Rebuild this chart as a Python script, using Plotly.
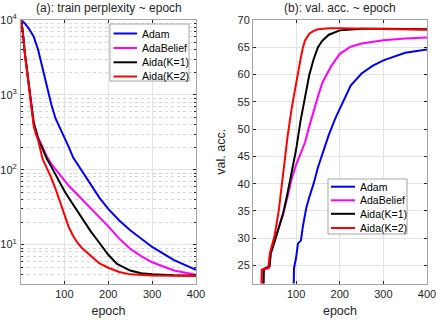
import plotly.graph_objects as go
from plotly.subplots import make_subplots

# (a) train perplexity
adam_ppl_ep = [1, 10, 20, 30, 40, 50, 60, 70, 80, 90, 100, 110, 120, 140, 160, 180, 200, 225, 250, 275, 300, 350, 400]
adam_ppl = [10000, 9000, 7500, 6000, 4000, 2300, 1250, 750, 480, 360, 275, 200, 145, 95, 62, 42, 30, 21, 15.5, 12, 9.3, 6.2, 4.6]

belief_ppl_ep = [1, 5, 10, 15, 20, 25, 30, 40, 50, 60, 70, 80, 90, 100, 110, 120, 140, 160, 180, 200, 225, 250, 275, 300, 350, 400]
belief_ppl = [10000, 7000, 3500, 2000, 1150, 650, 420, 270, 200, 150, 120, 100, 85, 72, 61, 53, 41, 31, 23, 17.5, 12, 8.8, 7, 5.8, 4.5, 3.95]

aida1_ppl_ep = [1, 5, 10, 15, 20, 25, 30, 40, 50, 60, 70, 80, 90, 100, 110, 120, 140, 160, 180, 200, 220, 250, 275, 300, 350, 400]
aida1_ppl = [10000, 7000, 3500, 2000, 1150, 650, 420, 260, 190, 140, 110, 85, 66, 52, 42, 34, 22, 15, 10.5, 7.3, 5.5, 4.5, 4.15, 4.0, 3.9, 3.86]

aida2_ppl_ep = [1, 5, 10, 15, 20, 25, 30, 35, 40, 50, 60, 70, 80, 90, 100, 110, 120, 130, 140, 160, 180, 200, 225, 250, 275, 300, 350, 400]
aida2_ppl = [10000, 7000, 3500, 2000, 1100, 650, 380, 300, 250, 140, 105, 78, 55, 37, 24, 17, 13, 10.5, 9, 7, 5.6, 4.9, 4.3, 4.0, 3.9, 3.85, 3.82, 3.8]

# (b) validation accuracy
adam_acc_ep = [1, 94, 95, 100, 104, 111, 115, 123, 130, 140, 150, 160, 175, 190, 200, 225, 250, 275, 300, 350, 400]
adam_acc = [10, 20, 24.5, 26.5, 29, 29.6, 32, 35.5, 37.5, 40, 43, 45.5, 49, 52, 53.8, 58, 60.2, 61.6, 62.6, 64, 64.6]

belief_acc_ep = [1, 22, 23, 38, 40, 50, 60, 70, 80, 90, 100, 110, 120, 130, 140, 150, 160, 180, 200, 225, 250, 300, 350, 400]
belief_acc = [10, 20, 24.3, 24.6, 27.3, 29.3, 32, 34.5, 37.5, 41, 43.5, 45.5, 47.5, 50.5, 53.5, 56, 58.5, 61.5, 63.8, 65.1, 65.7, 66.3, 66.6, 66.8]

aida1_acc_ep = [1, 25, 26, 39, 42, 50, 60, 70, 80, 90, 100, 110, 120, 130, 140, 150, 160, 175, 200, 250, 300, 350, 400]
aida1_acc = [10, 20, 24.4, 24.9, 27.2, 29.3, 32, 34.5, 38.2, 42.5, 46.3, 51.5, 56, 59.9, 62.8, 65, 66.2, 67.3, 68.1, 68.4, 68.4, 68.4, 68.3]

aida2_acc_ep = [1, 20, 21, 36, 40, 50, 60, 70, 80, 90, 100, 110, 115, 120, 130, 140, 150, 175, 200, 250, 300, 350, 400]
aida2_acc = [10, 20, 24.2, 24.5, 27.3, 30.3, 35, 42, 48.5, 54, 58.7, 62.8, 64.8, 66.2, 67.5, 68.0, 68.3, 68.5, 68.5, 68.4, 68.3, 68.3, 68.2]

names = ['Adam', 'AdaBelief', 'Aida(K=1)', 'Aida(K=2)']
colors = ['#0000ff', '#ff00ff', '#000000', '#ff0000']
ppl = [(adam_ppl_ep, adam_ppl), (belief_ppl_ep, belief_ppl), (aida1_ppl_ep, aida1_ppl), (aida2_ppl_ep, aida2_ppl)]
acc = [(adam_acc_ep, adam_acc), (belief_acc_ep, belief_acc), (aida1_acc_ep, aida1_acc), (aida2_acc_ep, aida2_acc)]

W, H = 436, 320
txt = '#262626'
grid = '#e3e3e3'
font = dict(family='Liberation Sans, Arial, sans-serif', size=11, color=txt)

fig = make_subplots(rows=1, cols=2)
for (ep, v), n, c in zip(ppl, names, colors):
    fig.add_trace(go.Scatter(x=ep, y=v, name=n, mode='lines', line=dict(color=c, width=2),
                             showlegend=False), row=1, col=1)
for (ep, v), n, c in zip(acc, names, colors):
    fig.add_trace(go.Scatter(x=ep, y=v, name=n, mode='lines', line=dict(color=c, width=2),
                             showlegend=False), row=1, col=2)

axis_common = dict(showline=True, linecolor='#a6a6a6', linewidth=1, mirror='ticks', ticks='inside',
                   ticklen=3, tickcolor=txt, showgrid=True, gridcolor=grid, zeroline=False,
                   automargin=False, ticklabeloverflow='allow', tickfont=dict(size=11, color=txt))

fig.update_xaxes(axis_common)
fig.update_yaxes(axis_common)
fig.update_xaxes(range=[1, 400], tickvals=[100, 200, 300, 400],
                 title=dict(text='epoch', font=dict(size=12.5, color=txt), standoff=7))
fig.update_xaxes(domain=[21 / W, 196 / W], row=1, col=1)
fig.update_xaxes(domain=[253 / W, 427 / W], row=1, col=2)
fig.update_yaxes(domain=[1 - 283.5 / H, 1 - 20 / H])

fig.update_yaxes(type='log', range=[0.48, 4], tickvals=[10, 100, 1000, 10000],
                 ticktext=['10<sup>1</sup>', '10<sup>2</sup>', '10<sup>3</sup>', '10<sup>4</sup>'],
                 ticklabelstandoff=1,
                 minor=dict(dtick='D1', showgrid=True, griddash='dot', gridcolor='#d6d6d6',
                            ticks='inside', ticklen=2, tickcolor=txt),
                 row=1, col=1)
fig.update_yaxes(range=[21.7, 70], tickvals=[25, 30, 35, 40, 45, 50, 55, 60, 65, 70],
                 title=dict(text='val. acc.', font=dict(size=12.5, color=txt), standoff=9),
                 row=1, col=2)

# hand-made legends (MATLAB-style compact boxes)
shapes = []
annotations = [
    dict(text='(a): train perplexity ~ epoch', x=(21 + 196) / 2 / W, y=1 - 8 / H,
         xanchor='center', yanchor='middle',
         xref='paper', yref='paper', showarrow=False, font=dict(size=12, color=txt)),
    dict(text='(b): val. acc. ~ epoch', x=(253 + 427) / 2 / W, y=1 - 8 / H,
         xanchor='center', yanchor='middle',
         xref='paper', yref='paper', showarrow=False, font=dict(size=12, color=txt)),
]
legend_boxes = [
    dict(box=(110, 24, 189, 81), rows=[33.5, 48, 62.3, 76.5], line=(113.5, 137), text_x=140),
    dict(box=(328, 179, 407, 234), rows=[186.7, 200.3, 213.8, 228], line=(331, 355), text_x=358),
]
for lg in legend_boxes:
    x0, y0, x1, y1 = lg['box']
    shapes.append(dict(type='rect', xref='paper', yref='paper', x0=x0 / W, x1=x1 / W,
                       y0=1 - y0 / H, y1=1 - y1 / H, line=dict(color='#a6a6a6', width=1),
                       fillcolor='white', layer='above'))
    for yy, n, c in zip(lg['rows'], names, colors):
        shapes.append(dict(type='line', xref='paper', yref='paper', x0=lg['line'][0] / W,
                           x1=lg['line'][1] / W, y0=1 - yy / H, y1=1 - yy / H,
                           line=dict(color=c, width=2), layer='above'))
        annotations.append(dict(text=n, x=lg['text_x'] / W, y=1 - yy / H, xref='paper', yref='paper',
                                xanchor='left', yanchor='middle', showarrow=False,
                                font=dict(size=10.5, color='black')))

fig.update_layout(
    width=W, height=H,
    margin=dict(l=0, r=0, t=0, b=0),
    paper_bgcolor='white', plot_bgcolor='white',
    font=font,
    shapes=shapes,
    annotations=annotations,
)

# the page's default 8px body margin would push the figure off the window
fig.write_html('out.html', config={'displayModeBar': False},
               post_script="document.body.style.margin = '0';")
